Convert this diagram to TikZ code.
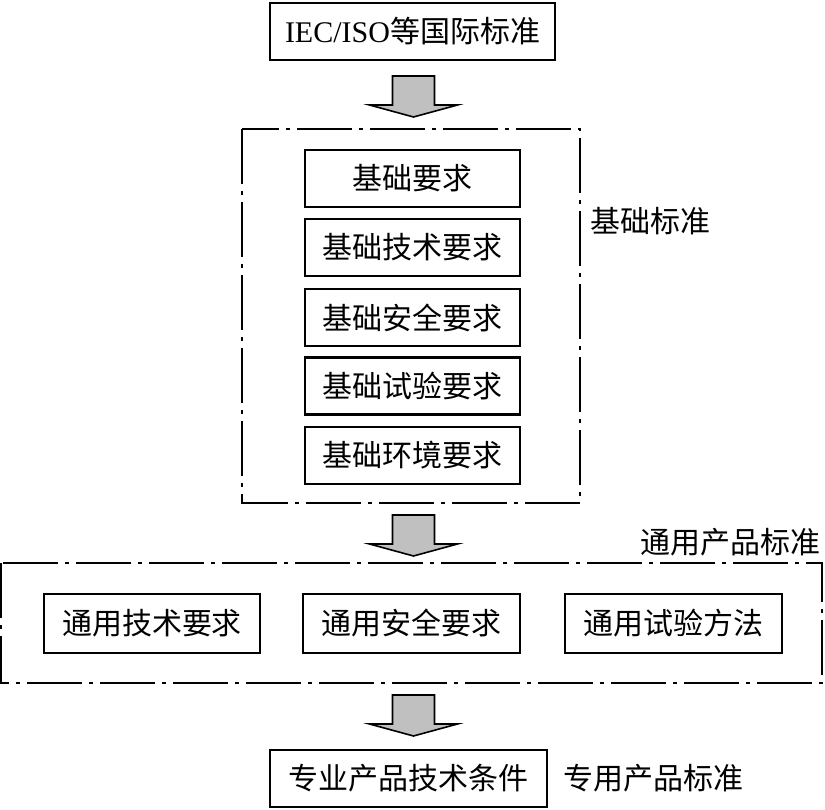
\documentclass[tikz,border=0pt]{standalone}
\usepackage{fontspec}
\setmainfont{Liberation Serif}
\newfontfamily\cjk{Noto Sans CJK SC}
\definecolor{arrowgray}{RGB}{192,192,192}
\tikzset{
  solidbox/.style={draw, line width=2.6pt, inner sep=0pt, minimum height=57pt, font=\fontsize{30}{36}\selectfont\cjk},
  dashbox/.style={draw, line width=2pt, dash pattern=on 55pt off 7pt on 4pt off 7pt},
  lbl/.style={inner sep=0pt, font=\fontsize{30}{36}\selectfont\cjk},
  blockarrow/.pic={\draw[fill=arrowgray, line width=1.6pt, line join=miter]
     (-21,0) -- (21,0) -- (21,29) -- (44,29) -- (0,41) -- (-44,29) -- (-21,29) -- cycle;}
}
\begin{document}
\begin{tikzpicture}[x=1pt,y=-1pt]
\useasboundingbox (0,0) rectangle (825,810);
% top
\node[solidbox, minimum width=285pt, font=\fontsize{30}{36}\selectfont] (iec) at (412.5,31.5) {IEC/ISO{\cjk 等国际标准}};
\pic at (413.5,76) {blockarrow};
% basic standards
\draw[dashbox] (242,129) rectangle (580,503);
\node[solidbox, minimum width=215pt] (b1) at (412.5,178.5) {基础要求};
\node[solidbox, minimum width=215pt] (b2) at (412.5,247.5) {基础技术要求};
\node[solidbox, minimum width=215pt] (b3) at (412.5,317.5) {基础安全要求};
\node[solidbox, minimum width=215pt] (b4) at (412.5,386) {基础试验要求};
\node[solidbox, minimum width=215pt] (b5) at (412.5,455.5) {基础环境要求};
\node[lbl] (lb) at (650,221) {基础标准};
\pic at (413.5,515) {blockarrow};
% general product standards
\node[lbl, anchor=east] (lg) at (821,542) {通用产品标准};
\draw[dashbox] (1,563) rectangle (822,683);
\node[solidbox, minimum width=216pt, minimum height=59pt] (g1) at (152,623.5) {通用技术要求};
\node[solidbox, minimum width=217pt, minimum height=59pt] (g2) at (411.5,623.5) {通用安全要求};
\node[solidbox, minimum width=217pt, minimum height=59pt] (g3) at (673.5,623.5) {通用试验方法};
\pic at (413.5,695) {blockarrow};
% special product
\node[solidbox, minimum width=277pt] (sp) at (408.5,778.5) {专业产品技术条件};
\node[lbl, anchor=west] (ls) at (563,778) {专用产品标准};
\end{tikzpicture}
\end{document}
